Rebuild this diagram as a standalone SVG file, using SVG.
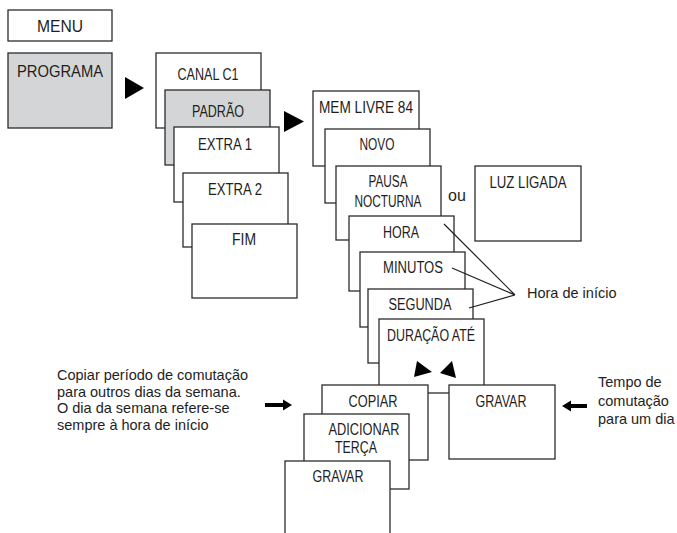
<svg xmlns="http://www.w3.org/2000/svg" width="677" height="533" viewBox="0 0 677 533">
<style>
.b{fill:#fff;stroke:#2b2b2b;stroke-width:1.3}
.g{fill:#d4d5d7;stroke:#2b2b2b;stroke-width:1.3}
.t{font-family:"Liberation Sans",Arial,sans-serif;font-size:16px;fill:#1e1e1e;text-anchor:middle}
.p{font-family:"Liberation Sans",Arial,sans-serif;font-size:14.5px;fill:#1e1e1e}
.l{stroke:#1e1e1e;stroke-width:1.2;fill:none}
.a{fill:#000}
</style>
<rect width="677" height="533" fill="#fff"/>
<g id="menu"><rect class="b" x="8" y="10" width="104" height="31"/><text class="t" x="60" y="32" textLength="46" lengthAdjust="spacingAndGlyphs">MENU</text></g>
<g id="programa"><rect class="g" x="8" y="53" width="104" height="75"/><text class="t" x="60" y="77" textLength="86" lengthAdjust="spacingAndGlyphs">PROGRAMA</text></g>
<g id="canal"><rect class="b" x="156" y="53" width="105" height="75"/><text class="t" x="208" y="80" textLength="61" lengthAdjust="spacingAndGlyphs">CANAL C1</text></g>
<g id="padrao"><rect class="g" x="165" y="90" width="105" height="75"/><text class="t" x="218" y="117" textLength="52" lengthAdjust="spacingAndGlyphs">PADRÃO</text></g>
<g id="extra1"><rect class="b" x="174" y="127" width="105" height="75"/><text class="t" x="225" y="150" textLength="54" lengthAdjust="spacingAndGlyphs">EXTRA 1</text></g>
<g id="extra2"><rect class="b" x="183" y="173" width="105" height="74"/><text class="t" x="235" y="195" textLength="54" lengthAdjust="spacingAndGlyphs">EXTRA 2</text></g>
<g id="fim"><rect class="b" x="192" y="224" width="105" height="74"/><text class="t" x="244" y="245" textLength="24" lengthAdjust="spacingAndGlyphs">FIM</text></g>
<g id="mem"><rect class="b" x="313" y="91" width="106" height="75"/><text class="t" x="366" y="113" textLength="94" lengthAdjust="spacingAndGlyphs">MEM LIVRE 84</text></g>
<g id="novo"><rect class="b" x="325" y="129" width="105" height="74"/><text class="t" x="377" y="150" textLength="35" lengthAdjust="spacingAndGlyphs">NOVO</text></g>
<g id="pausa"><rect class="b" x="336" y="166" width="105" height="74"/><text class="t" x="388" y="187" textLength="39" lengthAdjust="spacingAndGlyphs">PAUSA</text><text class="t" x="388" y="207" textLength="67" lengthAdjust="spacingAndGlyphs">NOCTURNA</text></g>
<g id="luz"><rect class="b" x="475" y="166" width="106" height="75"/><text class="t" x="528" y="188" textLength="77" lengthAdjust="spacingAndGlyphs">LUZ LIGADA</text></g>
<g id="ou"><text class="t" x="457" y="201">ou</text></g>
<g id="hora"><rect class="b" x="349" y="216" width="105" height="75"/><text class="t" x="401" y="238" textLength="36" lengthAdjust="spacingAndGlyphs">HORA</text></g>
<g id="minutos"><rect class="b" x="360" y="252" width="105" height="75"/><text class="t" x="413" y="273" textLength="60" lengthAdjust="spacingAndGlyphs">MINUTOS</text></g>
<g id="segunda"><rect class="b" x="368" y="289" width="105" height="74"/><text class="t" x="420" y="310" textLength="63" lengthAdjust="spacingAndGlyphs">SEGUNDA</text></g>
<g id="duracao"><rect class="b" x="379" y="319" width="105" height="74"/><text class="t" x="431" y="341" textLength="88" lengthAdjust="spacingAndGlyphs">DURAÇÃO ATÉ</text>
<polygon class="a" points="417,361 432,372 414,377"/><polygon class="a" points="452,361 456,378 440,373"/></g>
<g id="gravar2"><rect class="b" x="449" y="385" width="106" height="74"/><text class="t" x="501" y="407" textLength="51" lengthAdjust="spacingAndGlyphs">GRAVAR</text></g>
<g id="copiar"><rect class="b" x="322" y="385" width="106" height="75"/><text class="t" x="373" y="407" textLength="49" lengthAdjust="spacingAndGlyphs">COPIAR</text></g>
<g id="adicionar"><rect class="b" x="304" y="414" width="105" height="75"/><text class="t" x="364" y="435" textLength="71" lengthAdjust="spacingAndGlyphs">ADICIONAR</text><text class="t" x="356" y="453" textLength="42" lengthAdjust="spacingAndGlyphs">TERÇA</text></g>
<g id="gravar1"><rect class="b" x="285" y="461" width="105" height="80"/><text class="t" x="338" y="482" textLength="51" lengthAdjust="spacingAndGlyphs">GRAVAR</text></g>
<g id="connectors">
<polygon class="a" points="125,77 144,88 125,99"/>
<polygon class="a" points="284,111 304,121.5 284,132"/>
<path class="l" d="M444,224 L515,295 M452,268 L515,295 M469,308 L515,295"/>
<path class="a" d="M265,403 H283 V399.5 L292,405 L283,410.5 V407 H265 Z"/>
<path class="a" d="M587,404 H571 V400.5 L562,406 L571,411.5 V408 H587 Z"/>
</g>
<g id="labels">
<text class="p" x="527" y="298">Hora de início</text>
<text class="p" x="57" y="380">Copiar período de comutação</text>
<text class="p" x="57" y="397">para outros dias da semana.</text>
<text class="p" x="57" y="413">O dia da semana refere-se</text>
<text class="p" x="57" y="430">sempre à hora de início</text>
<text class="p" x="598" y="387">Tempo de</text>
<text class="p" x="598" y="406">comutação</text>
<text class="p" x="598" y="424">para um dia</text>
</g>
</svg>
